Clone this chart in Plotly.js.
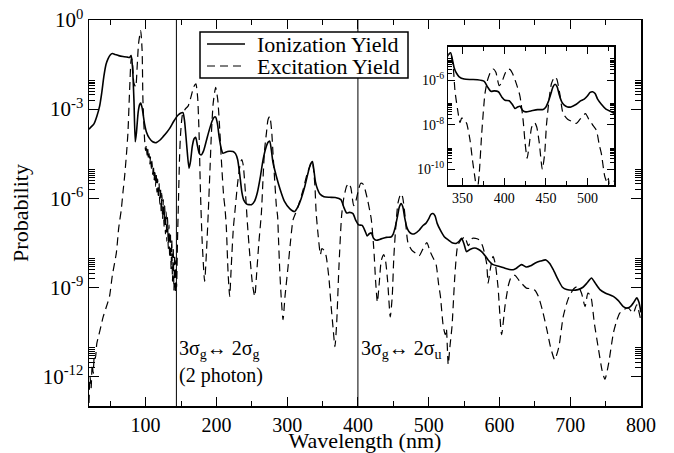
<!DOCTYPE html>
<html><head><meta charset="utf-8">
<script src="https://cdn.plot.ly/plotly-3.0.1.min.js"></script>
<style>html,body{margin:0;padding:0;background:#fff}#c{width:674px;height:453px}</style>
</head><body><div id="c"></div><script>
// Ionization yield: wavelength (nm) and log10(probability)
const ionWl = [20,23,27,31,35,38,41,44,47,50,53,57,62,68,74,77.4,79.5,81.5,83.5,85.4,87,89.5,91.5,93,95,98.5,101,105,110,115,120,125,130,134,140,146,150,152.8,155,158,161.3,163.5,166,168.5,170.7,173,176,178.7,182,186,190,194,197,199,201.5,204,207,209.4,213,218,223.5,227,230,233,236,238.5,243,249.5,254,258,262,266,270,273,275.4,277.5,280,284.8,290,296,303.6,310.7,315,320,325,329,333,335.7,338,340,343,346,352,360,368,376,380,384,388,393,397,401,406,410,413,416,419,422,426,432,440,446.7,450,453,456,458.5,461,463.5,466,469,472,476,480,486.5,492,496,500,503,506,509,512,516.5,522,528.5,533,539.4,543,546.5,550,553.5,559,565,570,574.7,580,584,591,600,607.7,614,619.5,624,631,638,644,650,658,665.7,671,676,683,689,695,703,711,718,724,730,735,742,750,760.9,768,775,780,785,790,794,797,800];
const ionLog10 = [-3.68,-3.6,-3.5,-3.25,-2.9,-2.45,-1.9,-1.5,-1.3,-1.18,-1.13,-1.16,-1.2,-1.23,-1.25,-1.26,-1.2,-1.6,-2.69,-4.1,-3.8,-3.1,-2.85,-2.8,-2.95,-3.5,-3.76,-3.97,-4.1,-4.13,-4.05,-3.92,-3.78,-3.65,-3.4,-3.2,-3.13,-3.12,-3.4,-4.2,-4.99,-4.75,-4.25,-4.0,-3.95,-4.2,-4.5,-4.54,-4.4,-4.05,-3.7,-3.4,-3.27,-3.27,-3.5,-3.95,-4.35,-4.49,-4.45,-4.42,-4.43,-4.5,-4.7,-5.2,-5.8,-6.06,-6.2,-6.22,-6.1,-5.8,-5.3,-4.7,-4.3,-4.12,-4.08,-4.35,-4.8,-5.27,-5.7,-6.1,-6.35,-6.45,-6.3,-6.0,-5.6,-5.2,-4.85,-4.77,-5.1,-5.45,-5.7,-5.85,-5.95,-5.97,-5.98,-6.05,-6.3,-6.5,-6.48,-6.52,-6.75,-6.9,-6.92,-7.1,-7.27,-7.2,-7.17,-7.35,-7.42,-7.38,-7.32,-7.31,-7.2,-6.95,-6.6,-6.3,-6.18,-6.3,-6.65,-6.97,-7.12,-7.2,-7.2,-7.08,-6.92,-6.85,-6.7,-6.55,-6.52,-6.6,-6.85,-7.08,-7.3,-7.42,-7.5,-7.52,-7.45,-7.35,-7.55,-7.8,-7.72,-7.68,-7.72,-7.8,-7.95,-8.08,-8.24,-8.3,-8.36,-8.4,-8.41,-8.36,-8.24,-8.32,-8.28,-8.19,-8.12,-8.08,-8.2,-8.41,-8.75,-9.0,-9.08,-9.1,-9.08,-9.0,-8.85,-8.69,-8.85,-9.08,-9.2,-9.31,-9.45,-9.65,-9.7,-9.65,-9.5,-9.36,-9.5,-9.85];

// Excitation yield: wavelength (nm) and log10(probability)
const excWl = [20,21.5,23,24.5,26,27.5,29,31,34,37,40,44,49,53,58.6,62,65.6,68,70.3,73,75,77.4,79.8,81,83.5,86,88,90,93,95,96.2,98.6,100,101,102,103,104,105,106,107,108,109,110,111,112,113,114,115,116,117,118,119,120,121,122,123,124,125,126,127,128,129,130,131,132,133,134,135,136,137,138,139,140,141,142,143,143.8,145,146.5,148,149.5,152,156,160,164,168,171,173.5,175.5,177.5,180,183.4,186,188.5,191,193,195.5,199,202,205,207,210.3,212,214,216.5,218.8,221,224,226,230,233.9,236,238,241,244,247,251,254.2,257,260,263.6,266,268,270.7,273,275.4,278,280,282.4,284.8,286.5,287.5,289.5,292,294.2,297,301.3,305,308.3,312,315.4,322.5,328,331.9,335.5,339,341,344,347,349,352,355,359,362,365,367.5,370,373,376.9,380,384,387,390,394,397,401,404,407,410,414,418.8,422.7,425,427.5,430,433,436.5,439,442,445.7,448.5,450.7,454,456.7,460.6,463,466.6,470.6,476,482.5,486.5,491,497.4,502,506,510.5,514,516.5,520.5,523.5,525,527.6,530,533,537,541,546,551,556,562,570,576,581.8,584,587,591,594,598,603,608,613,617,622,627,631,638,645,650,655,661,667,672,678,684,690,697,705,711,716,721,725,729,734,740,745,749,754,761,766,770,776,782,789,794,800];
const excLog10 = [-12.9,-12.0,-12.4,-11.6,-11.9,-11.3,-11.4,-10.9,-10.6,-10.3,-10.0,-9.7,-9.31,-8.6,-7.85,-7.0,-6.39,-5.8,-5.27,-4.5,-3.81,-2.36,-1.29,-1.35,-2.13,-2.25,-1.6,-0.8,-0.36,-1.0,-2.69,-4.04,-4.4,-4.2,-4.55,-4.35,-4.7,-4.5,-4.85,-4.6,-5.0,-4.75,-5.2,-4.9,-5.4,-5.05,-5.6,-5.2,-5.8,-5.35,-6.0,-5.5,-6.2,-5.65,-6.45,-5.85,-6.7,-6.05,-6.95,-6.25,-7.2,-6.45,-7.45,-6.65,-7.7,-6.9,-8.0,-7.15,-8.4,-7.4,-8.8,-7.65,-9.1,-7.9,-9.2,-8.1,-9.0,-7.5,-6.0,-4.6,-3.8,-3.2,-3.0,-2.9,-2.6,-2.25,-2.15,-2.6,-3.8,-5.8,-7.5,-8.8,-7.8,-6.5,-5.0,-3.8,-2.8,-2.27,-2.7,-3.8,-4.7,-5.94,-6.3,-6.95,-8.5,-9.31,-8.3,-7.0,-6.5,-5.5,-4.82,-4.7,-4.9,-5.8,-6.9,-7.85,-8.9,-9.31,-8.5,-7.5,-6.5,-5.3,-4.4,-3.81,-3.35,-3.25,-3.7,-4.5,-5.4,-6.28,-6.6,-7.2,-8.41,-9.5,-10.09,-9.3,-8.3,-7.4,-6.73,-6.5,-6.28,-5.72,-5.2,-4.94,-4.77,-5.5,-6.5,-7.3,-7.9,-7.7,-7.75,-7.94,-8.69,-9.6,-10.4,-11.0,-10.2,-8.4,-6.6,-6.0,-5.6,-5.5,-5.65,-6.25,-6.1,-5.7,-5.5,-5.52,-5.7,-6.1,-6.7,-7.8,-8.8,-9.5,-8.9,-8.1,-7.9,-8.1,-8.8,-10.0,-9.3,-8.0,-6.8,-6.15,-5.85,-5.95,-6.6,-7.49,-7.75,-7.87,-7.94,-7.75,-7.5,-7.8,-8.0,-8.24,-8.9,-9.29,-10.3,-10.6,-10.4,-11.6,-11.0,-10.3,-8.6,-7.6,-7.4,-7.31,-7.6,-7.35,-7.38,-7.6,-8.19,-8.86,-8.4,-7.96,-8.2,-9.0,-10.6,-9.6,-8.9,-8.64,-8.6,-8.75,-8.86,-9.03,-9.05,-9.1,-9.31,-9.8,-10.43,-11.0,-11.44,-11.0,-10.0,-9.4,-9.05,-8.97,-9.2,-9.65,-9.2,-9.3,-10.2,-11.1,-11.8,-12.1,-11.6,-10.54,-10.1,-9.87,-9.75,-9.7,-9.87,-9.59,-10.15];

const seriesNames = ['Ionization Yield', 'Excitation Yield'];
const transitionWl = [143.5, 400];
const mainYTickVals = [1, 1e-3, 1e-6, 1e-9, 1e-12];
const mainYTickText = ['10<sup>0</sup>','10<sup>-3</sup>','10<sup>-6</sup>','10<sup>-9</sup>','10<sup>-12</sup>'];
const insetYTickVals = [1e-6, 1e-8, 1e-10];
const insetYTickText = ['10<sup>-6</sup>','10<sup>-8</sup>','10<sup>-10</sup>'];

const toP = a => a.map(v => Math.pow(10, v));
const minorFor = decs => { const o = []; decs.forEach(d => { for (let m = 2; m <= 9; m++) o.push(m * Math.pow(10, d)); }); return o; };

const FONT = 'Liberation Serif';
const ionP = toP(ionLog10), excP = toP(excLog10);
const solid = {color: '#000', width: 1.6, shape: 'spline', smoothing: 0.6};
const dashed = {color: '#000', width: 1.2, dash: '8px,5px', shape: 'spline', smoothing: 0.6};

const traces = [
  {x: ionWl, y: ionP, name: seriesNames[0], mode: 'lines', line: solid, xaxis: 'x', yaxis: 'y'},
  {x: excWl, y: excP, name: seriesNames[1], mode: 'lines', line: dashed, xaxis: 'x', yaxis: 'y'},
  {x: ionWl, y: ionP, mode: 'lines', line: solid, xaxis: 'x2', yaxis: 'y2', showlegend: false},
  {x: excWl, y: excP, mode: 'lines', line: dashed, xaxis: 'x2', yaxis: 'y2', showlegend: false}
];

const axCommon = {showline: true, linecolor: '#000', linewidth: 1.5, mirror: 'allticks', ticks: 'inside', tickcolor: '#000', showgrid: false, zeroline: false};

// legend box (paper coordinates of the main plot area)
const lgX0 = 0.2011, lgX1 = 0.5779, lgY0 = 0.8497, lgY1 = 0.9689;
const lgRows = [0.9378, 0.8808];

const layout = {
  width: 674, height: 453,
  margin: {l: 89, r: 33, t: 20, b: 47},
  paper_bgcolor: '#fff', plot_bgcolor: '#fff',
  font: {family: FONT, color: '#000', size: 20},
  showlegend: false,
  xaxis: Object.assign({}, axCommon, {range: [20, 800], dtick: 100, tick0: 0, ticklen: 9, tickwidth: 1, tickfont: {family: FONT, size: 20},
    minor: {dtick: 50, tick0: 0, ticklen: 5, tickwidth: 1, tickcolor: '#000', ticks: 'inside'},
    title: {text: 'Wavelength (nm)', font: {family: FONT, size: 22}, standoff: 3}}),
  yaxis: Object.assign({}, axCommon, {type: 'log', range: [-13, 0], tickmode: 'array', tickvals: mainYTickVals, ticktext: mainYTickText, ticklen: 10, tickwidth: 1, tickfont: {family: FONT, size: 21},
    minor: {tickmode: 'array', tickvals: minorFor([-3, -6, -9, -12]), ticklen: 6, tickwidth: 1, tickcolor: '#000', ticks: 'inside'},
    title: {text: 'Probability', font: {family: FONT, size: 22}, standoff: 8}}),
  xaxis2: Object.assign({}, axCommon, {domain: [0.651, 0.9516], anchor: 'y2', range: [333, 532], dtick: 50, tick0: 0, ticklen: 7, tickwidth: 1, tickfont: {family: FONT, size: 14},
    minor: {dtick: 25, tick0: 0, ticklen: 4, tickwidth: 1, tickcolor: '#000', ticks: 'inside'}}),
  yaxis2: Object.assign({}, axCommon, {domain: [0.5725, 0.9308], anchor: 'x2', type: 'log', range: [-10.7, -4.5], tickmode: 'array', tickvals: insetYTickVals, ticktext: insetYTickText, ticklen: 7, tickwidth: 1, tickfont: {family: FONT, size: 14},
    minor: {tickmode: 'array', tickvals: minorFor([-6, -8, -10]), ticklen: 4, tickwidth: 1, tickcolor: '#000', ticks: 'inside'}}),
  shapes: transitionWl.map(w => ({type: 'line', xref: 'x', yref: 'paper', x0: w, x1: w, y0: 0, y1: 1, line: {color: '#000', width: 1}, layer: 'above'})).concat([
    {type: 'rect', xref: 'paper', yref: 'paper', x0: lgX0, x1: lgX1, y0: lgY0, y1: lgY1, fillcolor: '#fff', line: {color: '#000', width: 1.5}, layer: 'above'},
    {type: 'line', xref: 'paper', yref: 'paper', x0: 0.2138, x1: 0.2826, y0: lgRows[0], y1: lgRows[0], line: {color: '#000', width: solid.width}, layer: 'above'},
    {type: 'line', xref: 'paper', yref: 'paper', x0: 0.2138, x1: 0.2826, y0: lgRows[1], y1: lgRows[1], line: {color: '#000', width: dashed.width, dash: dashed.dash}, layer: 'above'}
  ]),
  annotations: [
    {xref: 'paper', yref: 'paper', x: 0.3, y: lgRows[0], xanchor: 'left', yanchor: 'middle', showarrow: false, text: seriesNames[0], font: {family: FONT, size: 22}},
    {xref: 'paper', yref: 'paper', x: 0.3, y: lgRows[1], xanchor: 'left', yanchor: 'middle', showarrow: false, text: seriesNames[1], font: {family: FONT, size: 22}},
    {xref: 'x', yref: 'y', x: transitionWl[0], y: -11.1, xanchor: 'left', yanchor: 'middle', showarrow: false, xshift: 1, text: '3σ<sub>g</sub>↔ 2σ<sub>g</sub>', font: {family: FONT, size: 20}},
    {xref: 'x', yref: 'y', x: transitionWl[0], y: -11.98, xanchor: 'left', yanchor: 'middle', showarrow: false, xshift: 1, text: '(2 photon)', font: {family: FONT, size: 20}},
    {xref: 'x', yref: 'y', x: transitionWl[1], y: -11.1, xanchor: 'left', yanchor: 'middle', showarrow: false, xshift: 1, text: '3σ<sub>g</sub>↔ 2σ<sub>u</sub>', font: {family: FONT, size: 20}}
  ]
};

Plotly.newPlot('c', traces, layout, {staticPlot: true, displayModeBar: false});
</script></body></html>
